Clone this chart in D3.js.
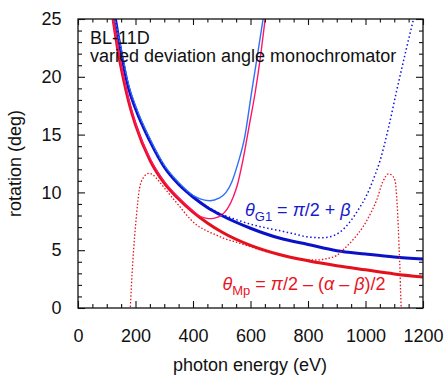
<!DOCTYPE html>
<html>
<head>
<meta charset="utf-8">
<script src="https://cdn.jsdelivr.net/npm/d3@7"></script>
<style>
html, body { margin: 0; padding: 0; background: #fff; }
svg text { font-family: "Liberation Sans", Arial, Helvetica, sans-serif; }
</style>
</head>
<body>
<svg id="chart" width="444" height="378"></svg>
<script>
// photon energy (eV) / rotation (deg)
var g1E     = [130, 150, 175, 200, 250, 300, 350, 400, 450, 500, 600, 700, 800, 900, 1000, 1100, 1200],
    g1Theta = [25, 22.1, 19.1, 17.25, 14.45, 12.2, 10.7, 9.6, 8.7, 8.0, 6.9, 6.05, 5.5, 4.96, 4.67, 4.41, 4.24];

var mpE     = [122, 140, 160, 180, 200, 250, 300, 350, 400, 450, 500, 600, 700, 800, 900, 1000, 1100, 1200],
    mpTheta = [25, 22.1, 19.6, 17.5, 15.85, 12.8, 10.8, 9.43, 8.3, 7.36, 6.58, 5.42, 4.63, 4.09, 3.66, 3.3, 2.95, 2.68];

var g1ThinE     = [128, 150, 175, 200, 250, 300, 350, 400, 430, 460, 490, 515, 535, 555, 580, 604, 625, 645],
    g1ThinTheta = [25, 22.4, 19.4, 17.5, 14.65, 12.35, 10.85, 9.75, 9.4, 9.28, 9.5, 10.0, 10.9, 12.4, 14.8, 18.7, 22.0, 25.2];

var mpThinE     = [120, 140, 160, 180, 200, 250, 300, 350, 400, 420, 440, 455, 475, 500, 520, 540, 555, 571, 595, 617, 635, 652],
    mpThinTheta = [25.2, 22.3, 19.8, 17.7, 16.0, 12.95, 10.95, 9.55, 8.4, 8.0, 7.8, 7.73, 7.78, 8.05, 8.6, 9.6, 10.7, 12.46, 15.7, 18.75, 21.8, 25.2];

var g1DotE     = [130, 150, 175, 200, 250, 300, 350, 400, 450, 500, 550, 600, 650, 700, 750, 800, 850, 880, 910, 946, 975, 1004, 1030, 1050, 1080, 1108, 1140, 1170],
    g1DotTheta = [25, 22.1, 19.1, 17.25, 14.45, 12.2, 10.7, 9.62, 8.75, 8.1, 7.65, 7.25, 6.95, 6.7, 6.42, 6.15, 6.08, 6.18, 6.55, 7.45, 8.5, 9.75, 11.3, 12.7, 15.6, 18.75, 22.2, 25.3];

var mpDotE     = [181, 186, 191, 197, 203, 214, 228, 246, 262, 278, 300, 325, 350, 390, 412, 450, 482, 505, 550, 600, 650, 700, 750, 800, 830, 860, 900, 925, 960, 992, 1020, 1039, 1060, 1080, 1095, 1103, 1110, 1114, 1118, 1120, 1122, 1125],
    mpDotTheta = [-0.5, 2.0, 4.15, 6.2, 7.9, 10.35, 11.3, 11.65, 11.5, 11.07, 10.4, 9.63, 8.9, 7.7, 7.2, 6.65, 6.3, 6.05, 5.7, 5.3, 4.9, 4.6, 4.33, 4.17, 4.15, 4.25, 4.55, 5.1, 6.0, 7.05, 8.3, 9.35, 10.9, 11.6, 11.4, 11.0, 9.0, 7.0, 4.5, 3.3, 1.5, -0.5];

var xMajor = [0, 200, 400, 600, 800, 1000, 1200],
    yMajor = [0, 5, 10, 15, 20, 25];

var svg = d3.select('#chart'),
    fontSize = '18px';

var x = d3.scaleLinear().domain([0, 1200]).range([78, 423]),
    y = d3.scaleLinear().domain([0, 25]).range([308, 19]);

var xMinor = d3.range(0, 1201, 50).filter(function(v) { return v % 200 !== 0; }),
    yMinor = d3.range(0, 26, 1).filter(function(v) { return v % 5 !== 0; });

svg.append('clipPath').attr('id', 'plotClip')
    .append('rect')
    .attr('x', 78).attr('y', 19)
    .attr('width', 345).attr('height', 289);

function zip(es, ts) {
    return es.map(function(e, i) { return [e, ts[i]]; });
}

var line = d3.line()
    .x(function(d) { return x(d[0]); })
    .y(function(d) { return y(d[1]); })
    .curve(d3.curveMonotoneX);

var curves = [
    {data: zip(g1E, g1Theta), color: '#0a12c8', width: 3},
    {data: zip(mpE, mpTheta), color: '#e4101c', width: 3},
    {data: zip(g1ThinE, g1ThinTheta), color: '#2f6ff5', width: 1.4},
    {data: zip(mpThinE, mpThinTheta), color: '#ff1466', width: 1.4},
    {data: zip(g1DotE, g1DotTheta), color: '#1010dc', width: 1.5, dash: '1.5,2.5'},
    {data: zip(mpDotE, mpDotTheta), color: '#e8141e', width: 1.3, dash: '1.5,1.9'}
];

var plot = svg.append('g').attr('clip-path', 'url(#plotClip)');

plot.selectAll('path')
    .data(curves)
  .enter().append('path')
    .attr('d', function(d) { return line(d.data); })
    .attr('fill', 'none')
    .attr('stroke', function(d) { return d.color; })
    .attr('stroke-width', function(d) { return d.width; })
    .attr('stroke-dasharray', function(d) { return d.dash || null; });

// tick marks point inward on all four sides
function ticks(axis, pos, values, size) {
    var g = svg.append('g')
        .attr('transform', pos)
        .call(axis.tickValues(values).tickSize(size).tickFormat(''));
    g.select('.domain').remove();
    g.selectAll('line').attr('stroke', '#111').attr('stroke-width', 1.1);
    return g;
}

function labels(axis, pos, values, pad) {
    var g = svg.append('g')
        .attr('transform', pos)
        .call(axis.tickValues(values).tickSize(0).tickPadding(pad).tickFormat(d3.format('d')));
    g.select('.domain').remove();
    g.selectAll('text').attr('fill', '#111').style('font-size', fontSize);
    return g;
}

ticks(d3.axisBottom(x), 'translate(0,308)', xMajor, -7);
ticks(d3.axisBottom(x), 'translate(0,308)', xMinor, -4);
ticks(d3.axisTop(x), 'translate(0,19)', xMajor, -6);
ticks(d3.axisTop(x), 'translate(0,19)', xMinor, -3.5);
ticks(d3.axisLeft(y), 'translate(78,0)', yMajor, -7);
ticks(d3.axisLeft(y), 'translate(78,0)', yMinor, -4);
ticks(d3.axisRight(y), 'translate(423,0)', yMajor, -7);
ticks(d3.axisRight(y), 'translate(423,0)', yMinor, -4);

labels(d3.axisBottom(x), 'translate(0,308)', xMajor, 21);
labels(d3.axisLeft(y), 'translate(78,0)', yMajor, 16.5);

svg.append('rect')
    .attr('x', 78).attr('y', 19)
    .attr('width', 345).attr('height', 289)
    .attr('fill', 'none')
    .attr('stroke', '#111')
    .attr('stroke-width', 1.3);

// titles
svg.append('text')
    .attr('x', 250).attr('y', 371)
    .attr('text-anchor', 'middle')
    .style('font-size', fontSize)
    .attr('fill', '#111')
    .text('photon energy (eV)');

svg.append('text')
    .attr('transform', 'translate(21,163.5) rotate(-90)')
    .attr('text-anchor', 'middle')
    .style('font-size', fontSize)
    .attr('fill', '#111')
    .text('rotation (deg)');

svg.append('text')
    .attr('x', 90).attr('y', 43.5)
    .style('font-size', fontSize)
    .attr('fill', '#111')
    .text('BL-11D');

svg.append('text')
    .attr('x', 90).attr('y', 62)
    .style('font-size', fontSize)
    .attr('fill', '#111')
    .text('varied deviation angle monochromator');

// curve labels
function mathLabel(xp, yp, color, parts) {
    var t = svg.append('text')
        .attr('x', xp).attr('y', yp)
        .attr('fill', color)
        .style('font-size', fontSize);
    parts.forEach(function(p) {
        var s = t.append('tspan').text(p.t);
        if (p.i) s.style('font-style', 'italic');
        if (p.sub) s.style('font-size', '13px').attr('dy', 4.5);
        if (p.up) s.attr('dy', -4.5);
    });
}

mathLabel(245, 216, '#1a1acc', [
    {t: 'θ', i: true}, {t: 'G1', sub: true}, {t: ' = ', up: true},
    {t: 'π', i: true}, {t: '/2 + '}, {t: 'β', i: true}
]);

mathLabel(222.5, 290, '#e8141e', [
    {t: 'θ', i: true}, {t: 'Mp', sub: true}, {t: ' = ', up: true},
    {t: 'π', i: true}, {t: '/2 – ('}, {t: 'α', i: true}, {t: ' – '},
    {t: 'β', i: true}, {t: ')/2'}
]);
</script>
</body>
</html>
